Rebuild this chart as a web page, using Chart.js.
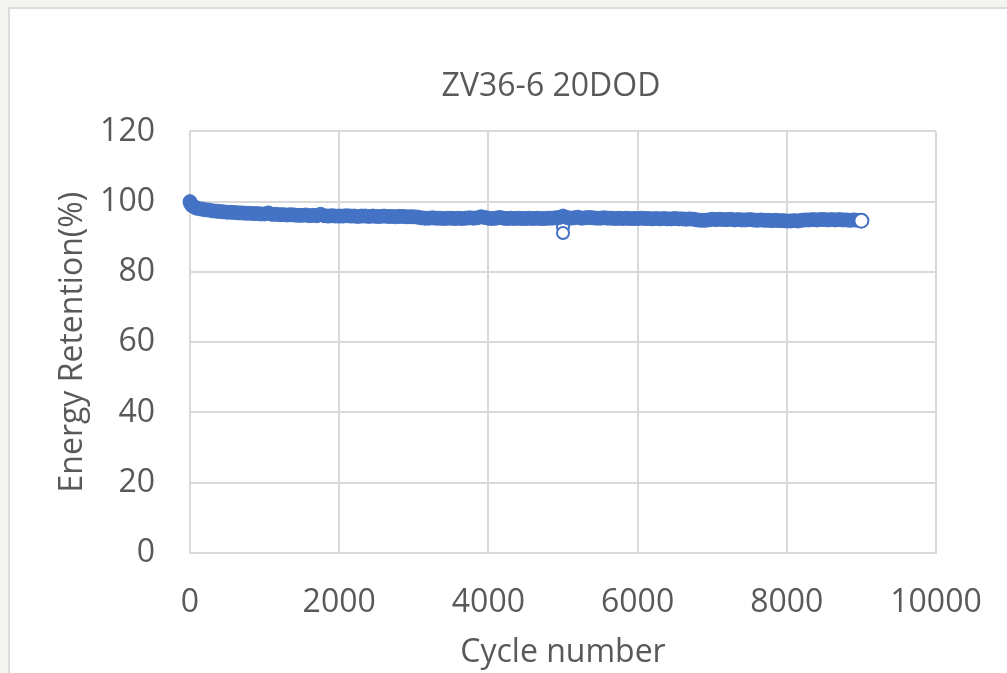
<!DOCTYPE html>
<html lang="en">
<head>
<meta charset="UTF-8" />
<title>ZV36-6 20DOD</title>
<script src="https://cdn.jsdelivr.net/npm/chart.js"></script>
<style>
  html, body { margin: 0; padding: 0; width: 1007px; height: 673px; overflow: hidden; background: #f4f4f0; }
  .panel { position: absolute; left: 8px; top: 7px; width: 1100px; height: 700px; background: #fff; border: 2px solid #dcdcdc; }
  #chart { position: absolute; left: 0; top: 0; }
</style>
</head>
<body>
<div class="panel">
  <canvas id="chart" width="1082" height="664"></canvas>
</div>

<script>
  // cycle numbers read along the band
  const cycles = [
    0, 10, 25, 50, 75,
    100, 150, 200, 250, 300, 350, 400, 450, 500, 550, 600, 650, 700, 750, 800, 850, 900, 950,
    1000, 1050, 1100, 1150, 1200, 1250, 1300, 1350, 1400, 1450, 1500, 1550, 1600, 1650, 1700, 1750, 1800, 1850, 1900, 1950,
    2000, 2050, 2100, 2150, 2200, 2250, 2300, 2350, 2400, 2450, 2500, 2550, 2600, 2650, 2700, 2750, 2800, 2850, 2900, 2950,
    3000, 3050, 3100, 3150, 3200, 3250, 3300, 3350, 3400, 3450, 3500, 3550, 3600, 3650, 3700, 3750, 3800, 3850, 3900, 3950,
    4000, 4050, 4100, 4150, 4200, 4250, 4300, 4350, 4400, 4450, 4500, 4550, 4600, 4650, 4700, 4750, 4800, 4850, 4900, 4950,
    5000, 5050, 5100, 5150, 5200, 5250, 5300, 5350, 5400, 5450, 5500, 5550, 5600, 5650, 5700, 5750, 5800, 5850, 5900, 5950,
    6000, 6050, 6100, 6150, 6200, 6250, 6300, 6350, 6400, 6450, 6500, 6550, 6600, 6650, 6700, 6750, 6800, 6850, 6900, 6950,
    7000, 7050, 7100, 7150, 7200, 7250, 7300, 7350, 7400, 7450, 7500, 7550, 7600, 7650, 7700, 7750, 7800, 7850, 7900, 7950,
    8000, 8050, 8100, 8150, 8200, 8250, 8300, 8350, 8400, 8450, 8500, 8550, 8600, 8650, 8700, 8750, 8800, 8850, 8900, 8950,
    9000
  ];

  // energy retention (%)
  const retention = [
    100.0, 99.4, 98.9, 98.6, 98.3,
    98.1, 97.9, 97.7, 97.6, 97.4, 97.3, 97.2, 97.1, 97.0, 97.0, 96.9, 96.8, 96.8, 96.7, 96.7, 96.6, 96.6, 96.5,
    96.5, 96.8, 96.4, 96.4, 96.3, 96.3, 96.2, 96.3, 96.2, 96.1, 96.1, 96.2, 96.0, 96.1, 96.0, 96.4, 96.0, 95.9, 96.0, 95.9,
    95.9, 95.9, 96.0, 95.9, 95.9, 95.8, 95.9, 95.9, 95.8, 95.9, 95.8, 95.8, 95.9, 95.8, 95.8, 95.7, 95.8, 95.8, 95.7, 95.7,
    95.7, 95.6, 95.4, 95.3, 95.3, 95.4, 95.3, 95.3, 95.2, 95.3, 95.3, 95.2, 95.3, 95.2, 95.3, 95.4, 95.3, 95.4, 95.7, 95.5,
    95.3, 95.2, 95.3, 95.5, 95.3, 95.2, 95.3, 95.2, 95.3, 95.2, 95.2, 95.3, 95.2, 95.3, 95.2, 95.2, 95.3, 95.3, 95.4, 95.5,
    95.9, 95.5, 95.3, 95.4, 95.6, 95.3, 95.4, 95.5, 95.4, 95.3, 95.3, 95.4, 95.3, 95.3, 95.2, 95.3, 95.2, 95.3, 95.2, 95.2,
    95.2, 95.3, 95.2, 95.2, 95.1, 95.2, 95.1, 95.2, 95.1, 95.1, 95.2, 95.1, 95.1, 95.0, 95.1, 95.0, 94.8, 94.7, 94.7, 94.8,
    95.0, 94.9, 95.0, 94.9, 94.9, 95.0, 94.8, 94.9, 94.8, 94.8, 94.9, 94.8, 94.7, 94.8, 94.7, 94.7, 94.6, 94.7, 94.6, 94.6,
    94.5, 94.5, 94.6, 94.5, 94.7, 94.8, 94.8, 94.9, 94.8, 94.9, 94.9, 94.8, 94.9, 94.8, 94.9, 94.8, 94.8, 94.7, 94.8, 94.7,
    94.6
  ];

  // the two low points around cycle 5000
  const outlierCycles = [5000, 5000];
  const outlierValues = [92.7, 91.1];

  const xTicks = [0, 2000, 4000, 6000, 8000, 10000];
  const yTicks = [0, 20, 40, 60, 80, 100, 120];

  const blue = '#4472C4';
  const grey = '#d9d9d9';
  const textColor = '#595959';
  const font = 'Open Sans';
  const last = cycles.length - 1;

  new Chart(document.getElementById('chart'), {
    type: 'scatter',
    data: {
      datasets: [
        {
          data: cycles.map((c, i) => ({ x: c, y: retention[i] })),
          order: 0,
          clip: false,
          pointRadius: 7,
          pointBorderWidth: ctx => ctx.dataIndex === last ? 2 : 1,
          pointBorderColor: blue,
          pointBackgroundColor: ctx => ctx.dataIndex === last ? '#ffffff' : blue
        },
        {
          data: outlierCycles.map((c, i) => ({ x: c, y: outlierValues[i] })),
          order: 1,
          pointRadius: 6,
          pointBorderWidth: 2,
          pointBorderColor: blue,
          pointBackgroundColor: '#ffffff'
        }
      ]
    },
    options: {
      responsive: false,
      animation: false,
      events: [],
      plugins: {
        legend: { display: false },
        tooltip: { enabled: false },
        title: {
          display: true,
          text: 'ZV36-6 20DOD',
          color: textColor,
          font: { family: font, size: 32, weight: 'normal' },
          padding: { top: 59, bottom: 25 }
        }
      },
      scales: {
        x: {
          type: 'linear',
          min: 0,
          max: 10000,
          afterBuildTicks: s => { s.ticks = xTicks.map(v => ({ value: v })); },
          afterFit: s => { s.height = 120; },
          ticks: { color: textColor, padding: 31, font: { family: font, size: 32 }, callback: v => String(v) },
          grid: { color: grey, lineWidth: 2, drawTicks: false },
          border: { color: grey, width: 2 },
          title: {
            display: true,
            text: 'Cycle number',
            color: textColor,
            font: { family: font, size: 32 },
            padding: { top: 0, bottom: 1 }
          }
        },
        y: {
          min: 0,
          max: 120,
          afterBuildTicks: s => { s.ticks = yTicks.map(v => ({ value: v })); },
          afterFit: s => { s.width = 180; },
          ticks: { color: textColor, padding: 35, font: { family: font, size: 32 }, callback: v => String(v) },
          grid: { color: grey, lineWidth: 2, drawTicks: false },
          border: { color: grey, width: 2 },
          title: {
            display: true,
            text: 'Energy Retention(%)',
            color: textColor,
            font: { family: font, size: 32 },
            padding: { top: 44, bottom: 0 }
          }
        },
        // empty right-hand box so the plot ends where the original does
        spacer: {
          position: 'right',
          afterFit: s => { s.width = 156; },
          ticks: { display: false },
          grid: { display: false },
          border: { display: false }
        }
      }
    }
  });
</script>
</body>
</html>
